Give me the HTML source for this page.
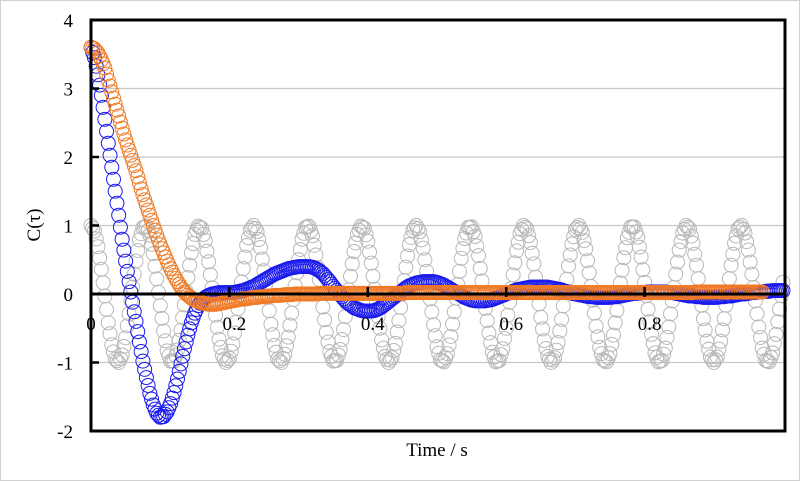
<!DOCTYPE html>
<html><head><meta charset="utf-8"><style>
html,body{margin:0;padding:0;background:#fff}
svg{display:block}
text{font-family:"Liberation Serif",serif;fill:#000}
</style></head><body>
<svg id="chart" width="800" height="481" viewBox="0 0 800 481">
<rect x="0.5" y="0.5" width="799" height="480" fill="#fff" stroke="#d0d0d0"/>
<g id="grid"></g>
<g id="series"></g>
<g id="axes"></g>
<text x="40" y="225" font-size="19" text-anchor="middle" transform="rotate(-90 40 225)">C(τ)</text>
<text x="437" y="456" font-size="19" text-anchor="middle">Time / s</text>
</svg>
<script>
const yTicks=[-2,-1,0,1,2,3,4];
const yTickLabels=["-2","-1","0","1","2","3","4"];
const xTicks=[0,0.2,0.4,0.6,0.8];
const xTickLabels=["0","0.2","0.4","0.6","0.8"];
const dt=0.005;
const gray=[1.00,0.92,0.69,0.36,-0.03,-0.42,-0.74,-0.95,-1.00,-0.89,-0.64,-0.29,0.10,0.48,0.79,0.97,0.99,0.86,0.59,0.22,-0.17,-0.54,-0.83,-0.98,-0.98,-0.82,-0.53,-0.16,0.24,0.60,0.87,0.99,0.96,0.78,0.47,0.09,-0.31,-0.66,-0.90,-1.00,-0.94,-0.73,-0.41,-0.02,0.37,0.71,0.93,1.00,0.91,0.68,0.34,-0.05,-0.44,-0.75,-0.95,-1.00,-0.88,-0.63,-0.28,0.12,0.50,0.80,0.97,0.99,0.85,0.57,0.21,-0.19,-0.56,-0.84,-0.98,-0.97,-0.81,-0.52,-0.14,0.26,0.62,0.87,0.99,0.96,0.77,0.45,0.07,-0.33,-0.67,-0.91,-1.00,-0.93,-0.72,-0.39,0.00,0.39,0.72,0.93,1.00,0.91,0.67,0.33,-0.07,-0.45,-0.77,-0.96,-0.99,-0.87,-0.62,-0.26,0.14,0.52,0.81,0.97,0.98,0.84,0.56,0.19,-0.21,-0.57,-0.85,-0.99,-0.97,-0.80,-0.50,-0.12,0.28,0.63,0.88,1.00,0.95,0.75,0.44,0.05,-0.34,-0.68,-0.91,-1.00,-0.93,-0.71,-0.37,0.02,0.41,0.73,0.94,1.00,0.90,0.66,0.31,-0.09,-0.47,-0.78,-0.96,-0.99,-0.87,-0.60,-0.24,0.16,0.53,0.82,0.98,0.98,0.83,0.54,0.17,-0.22,-0.59,-0.86,-0.99,-0.97,-0.79,-0.48,-0.10,0.29,0.64,0.89,1.00,0.95,0.74,0.42,0.03,-0.36,-0.69,-0.92,-1.00,-0.92,-0.69,-0.36,0.03,0.42,0.74,0.95,1.00,0.89,0.64,0.29,-0.10,-0.48,-0.79,-0.97,-0.99,-0.86,-0.59,-0.22,0.17];
const blue=[3.60,3.45,3.20,2.90,2.55,2.20,1.85,1.50,1.15,0.80,0.48,0.18,-0.12,-0.40,-0.70,-0.98,-1.22,-1.45,-1.62,-1.74,-1.80,-1.79,-1.72,-1.60,-1.44,-1.24,-1.02,-0.80,-0.60,-0.42,-0.28,-0.17,-0.10,-0.05,-0.02,0.00,0.01,0.02,0.02,0.02,0.02,0.02,0.03,0.04,0.05,0.07,0.09,0.11,0.14,0.17,0.20,0.23,0.26,0.29,0.31,0.33,0.35,0.37,0.38,0.39,0.40,0.40,0.40,0.40,0.39,0.37,0.34,0.30,0.24,0.18,0.11,0.05,-0.01,-0.07,-0.12,-0.16,-0.20,-0.22,-0.24,-0.25,-0.25,-0.25,-0.24,-0.22,-0.19,-0.15,-0.11,-0.07,-0.03,0.01,0.05,0.09,0.12,0.14,0.16,0.17,0.18,0.18,0.18,0.18,0.17,0.15,0.13,0.10,0.07,0.04,0.01,-0.02,-0.05,-0.07,-0.09,-0.10,-0.10,-0.10,-0.10,-0.09,-0.08,-0.06,-0.04,-0.02,0.00,0.02,0.04,0.06,0.07,0.08,0.09,0.10,0.10,0.10,0.10,0.10,0.10,0.09,0.08,0.07,0.06,0.04,0.03,0.01,0.00,-0.01,-0.02,-0.03,-0.04,-0.04,-0.05,-0.05,-0.05,-0.05,-0.05,-0.04,-0.04,-0.03,-0.02,-0.01,0.00,0.01,0.01,0.02,0.02,0.03,0.03,0.03,0.03,0.03,0.03,0.02,0.02,0.01,0.00,-0.01,-0.02,-0.03,-0.03,-0.04,-0.04,-0.05,-0.05,-0.05,-0.05,-0.05,-0.04,-0.04,-0.03,-0.03,-0.02,-0.01,0.00,0.00,0.01,0.02,0.02,0.03,0.03,0.04,0.04,0.05,0.05,0.05,0.05];
const orange=[3.60,3.58,3.52,3.42,3.30,3.12,2.95,2.77,2.60,2.42,2.25,2.10,1.95,1.80,1.62,1.45,1.30,1.15,1.00,0.86,0.72,0.60,0.48,0.37,0.27,0.18,0.10,0.03,-0.02,-0.06,-0.09,-0.11,-0.13,-0.14,-0.15,-0.15,-0.15,-0.14,-0.13,-0.12,-0.11,-0.10,-0.09,-0.08,-0.07,-0.07,-0.06,-0.05,-0.05,-0.04,-0.04,-0.03,-0.03,-0.02,-0.02,-0.02,-0.01,-0.01,-0.01,0.00,0.00,0.00,0.00,0.00,0.00,0.00,0.01,0.01,0.01,0.01,0.01,0.01,0.01,0.01,0.01,0.01,0.01,0.01,0.01,0.01,0.01,0.01,0.01,0.01,0.01,0.01,0.01,0.01,0.01,0.01,0.01,0.02,0.02,0.02,0.02,0.02,0.02,0.02,0.02,0.02,0.02,0.02,0.02,0.02,0.02,0.02,0.02,0.02,0.02,0.02,0.02,0.02,0.02,0.02,0.02,0.02,0.02,0.02,0.02,0.02,0.02,0.02,0.02,0.02,0.02,0.02,0.02,0.02,0.02,0.02,0.02,0.02,0.02,0.02,0.02,0.02,0.02,0.02,0.02,0.02,0.02,0.02,0.02,0.02,0.02,0.02,0.02,0.02,0.02,0.02,0.02,0.02,0.02,0.02,0.02,0.02,0.02,0.02,0.02,0.02,0.02,0.02,0.02,0.02,0.02,0.02,0.02,0.02,0.02,0.02,0.02,0.02,0.02,0.02,0.02,0.03,0.03,0.03,0.03,0.03,0.03,0.03,0.03,0.03,0.03,0.03,0.03,0.03,0.03,0.03,0.03,0.03,0.03,0.03,0.03];

const NS='http://www.w3.org/2000/svg';
const L=91,R=785,T=20,B=431;
function xs(t){return L+(t-0)/(1-0)*692;}
function ys(v){return 294-v*68.5;}
function mk(tag,attrs,parent){const e=document.createElementNS(NS,tag);for(const k in attrs)e.setAttribute(k,attrs[k]);parent.appendChild(e);return e;}
const grid=document.getElementById('grid'),ser=document.getElementById('series'),axes=document.getElementById('axes');
yTicks.forEach((v,i)=>{
  if(v!==0&&v!==4&&v!==-2){const g=mk('line',{x1:L,x2:R,y1:ys(v),y2:ys(v),stroke:'#c8c8c8','stroke-width':1.2},grid);
  
  }
  const tk=mk('line',{x1:L,x2:L+8,y1:ys(v),y2:ys(v),stroke:'#000','stroke-width':2.5},axes);
  
  
  const tx=mk('text',{x:73,y:ys(v)+7,'font-size':19,'text-anchor':'end'},axes);
  tx.textContent=yTickLabels[i];
  
  
});
// markers at each data point plus a midpoint marker between neighbours (drawing density only)
function draw(arr,color,name,sw){
  const g=mk('g',{},ser);
  
  
  arr.forEach((v,i)=>{
    const c=mk('circle',{cx:xs(i*dt),cy:ys(v),r:7,fill:'none',stroke:color,'stroke-width':sw},g);
    
    
    if(i<arr.length-1){
      const m=mk('circle',{cx:xs((i+0.5)*dt),cy:ys((v+arr[i+1])/2),r:7,fill:'none',stroke:color,'stroke-width':sw},g);
      
      
    }
  });
}
draw(gray,'#b8b8b8','reference-cosine-series',1);
draw(blue,'#1a1aee','blue-correlation-series',1);
draw(orange,'#f07a25','orange-correlation-series',1);
const zl=mk('line',{x1:L,x2:R,y1:ys(0),y2:ys(0),stroke:'#000','stroke-width':3},axes);


xTicks.forEach((t,i)=>{
  const tk=mk('line',{x1:xs(t),x2:xs(t),y1:ys(0)-7,y2:ys(0)+3,stroke:'#000','stroke-width':2.5},axes);
  
  
  const tx=mk('text',{x:xs(t)+(i===0?0:5),y:330,'font-size':19,'text-anchor':'middle'},axes);
  tx.textContent=xTickLabels[i];
  
  
});
const fr=mk('rect',{x:L,y:T,width:R-L,height:B-T,fill:'none',stroke:'#000','stroke-width':3},axes);


</script>
</body></html>
